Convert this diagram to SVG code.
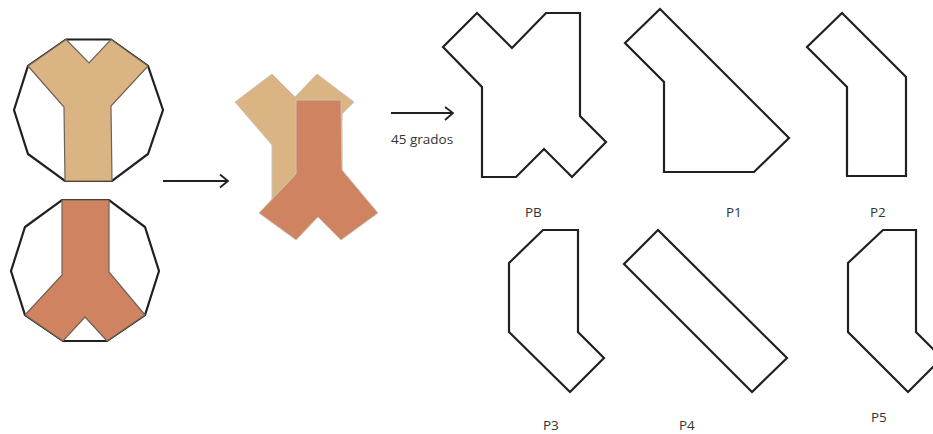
<svg xmlns="http://www.w3.org/2000/svg" width="933" height="434" viewBox="0 0 933 434">
<style>
.o{fill:none;stroke:#231f20;stroke-width:2.2;stroke-linejoin:miter}
.tan{fill:#dbb483}
.ora{fill:#cf8361}
.e{stroke:#6f6257;stroke-width:1.2}
.a{fill:none;stroke:#231f20;stroke-width:1.8}
text{font-family:"Open Sans","Noto Sans","Liberation Sans",sans-serif;font-size:13.5px;fill:#333335}
</style>
<rect width="933" height="434" fill="#fff"/>
<g id="decagon-top">
<polygon class="o" points="66,39.5 111,39.5 148,66 163,110 148,154 112,181 65,181 28,154 14,110 28,66"/>
<polygon class="tan e" points="66,39.5 89,63 111,39.5 148,66 111,106 112,181 65,181 64,107 28,66"/>
</g>
<g id="decagon-bottom">
<polygon class="o" points="62,200 109,200 145,227 159,271 145,315 107,341 63,341 25,315 11,271 25,227"/>
<polygon class="ora e" points="62,200 109,200 109,272 145,315 107,341 85,317 63,341 25,315 62,275"/>
</g>
<g id="overlap">
<polygon class="tan" stroke="#c9c4bc" stroke-width="1" points="272,74 295,97 317,74 354,102 342,114 342,200 272,200 272,145 235,102"/>
<polygon class="ora" stroke="#c9c4bc" stroke-width="1" points="296,100 341,100 342,170 378,213 341,240 318,217 296,240 259,213 296,174"/>
</g>
<g id="connectors">
<path class="a" d="M163 181H228M220 174.500L228 181L220 187.500"/>
<path class="a" d="M391 113H453M445 107L453 113L445 120"/>
</g>
<text id="angle-label" x="391" y="144">45 grados</text>
<g id="PB"><polygon class="o" points="477,13 512,48 546,13 580,13 580,116 606,142 572,177 544,149 516,177 482,177 482,87 443,47"/><text x="525" y="217">PB</text></g>
<g id="P1"><polygon class="o" points="660,9 789,138 754,172 664,172 664,82 625,43"/><text x="726" y="217">P1</text></g>
<g id="P2"><polygon class="o" points="842,13 906,77 906,176 847,176 847,87 807,47"/><text x="870" y="217">P2</text></g>
<g id="P3"><polygon class="o" points="543,230 578,230 578,332 604,358 570,392 509,332 509,263"/><text x="543" y="430">P3</text></g>
<g id="P4"><polygon class="o" points="658,230 787,358 752,392 624,264"/><text x="679" y="430">P4</text></g>
<g id="P5"><polygon class="o" points="883,230 916,230 916,332 942,358 908,392 848,332 848,263"/><text x="871" y="422">P5</text></g>
</svg>
